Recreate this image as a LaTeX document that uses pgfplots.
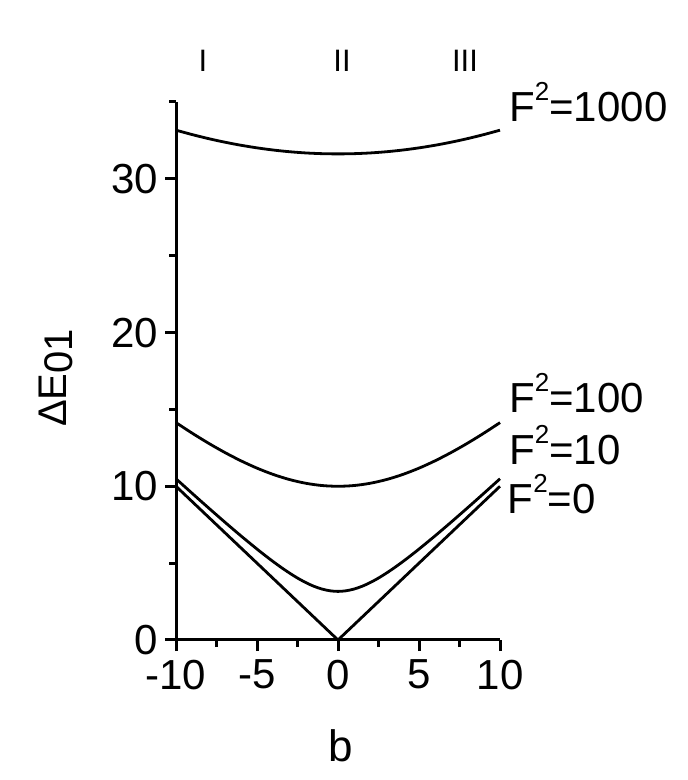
\documentclass[border=0pt]{standalone}
\usepackage{fontspec}
\setmainfont{Liberation Sans}
\usepackage{pgfplots}
\pgfplotsset{compat=1.18}
\begin{document}
\begin{tikzpicture}[x=1pt,y=1pt]
\useasboundingbox (-88pt,-70pt) rectangle (256pt,320pt);
\begin{axis}[
  at={(0pt,0pt)}, anchor=south west,
  scale only axis, width=162pt, height=269pt,
  xmin=-10, xmax=10, ymin=0, ymax=35,
  axis lines=left, axis line style={-, line width=1.5pt},
  xtick={-10,-5,0,5,10}, ytick={0,10,20,30},
  minor xtick={-7.5,-2.5,2.5,7.5}, minor ytick={5,15,25,35},
  tick align=outside, tick style={black, line width=1.5pt},
  major tick length=5.5pt, minor tick length=3.5pt,
  /pgf/number format/assume math mode=true,
  tick label style={font=\fontsize{21}{21}\selectfont},
  xticklabel style={yshift=-1pt},
  clip=false,
  xlabel={b}, ylabel={ΔE\raisebox{-3pt}{01}},
  xlabel style={font=\fontsize{22}{22}\selectfont, at={(axis description cs:0.509,-0.197)}, anchor=center},
  ylabel style={font=\fontsize{20}{20}\selectfont, at={(axis description cs:-0.37,0.487)}, anchor=center},
]
\addplot[black, line width=1.4pt] coordinates {(-10,10) (0,0) (10,10)};
\addplot[black, line width=1.4pt, smooth] coordinates {
(-10,10.488) (-9,9.539) (-8,8.602) (-7,7.681) (-6,6.782) (-5,5.916) (-4.5,5.5) (-4,5.099) (-3.5,4.717) (-3,4.359) (-2.5,4.031) (-2,3.742) (-1.5,3.5) (-1,3.317) (-0.5,3.202) (0,3.162)
(0.5,3.202) (1,3.317) (1.5,3.5) (2,3.742) (2.5,4.031) (3,4.359) (3.5,4.717) (4,5.099) (4.5,5.5) (5,5.916) (6,6.782) (7,7.681) (8,8.602) (9,9.539) (10,10.488)};
\addplot[black, line width=1.4pt, smooth] coordinates {
(-10,14.142) (-9,13.454) (-8,12.806) (-7,12.207) (-6,11.662) (-5,11.180) (-4,10.770) (-3,10.440) (-2,10.198) (-1,10.050) (0,10)
(1,10.050) (2,10.198) (3,10.440) (4,10.770) (5,11.180) (6,11.662) (7,12.207) (8,12.806) (9,13.454) (10,14.142)};
\addplot[black, line width=1.4pt, smooth] coordinates {
(-10,33.166) (-9,32.879) (-8,32.619) (-7,32.388) (-6,32.187) (-5,32.016) (-4,31.875) (-3,31.765) (-2,31.686) (-1,31.639) (0,31.623)
(1,31.639) (2,31.686) (3,31.765) (4,31.875) (5,32.016) (6,32.187) (7,32.388) (8,32.619) (9,32.879) (10,33.166)};
\def\Flab#1{F\raisebox{10.5pt}{\fontsize{13}{13}\selectfont 2}=#1}
\node[anchor=base west, inner sep=0pt, font=\fontsize{21}{21}\selectfont] at (axis cs:10.55,33.7) {\Flab{1000}};
\node[anchor=base west, inner sep=0pt, font=\fontsize{21}{21}\selectfont] at (axis cs:10.55,14.77) {\Flab{100}};
\node[anchor=base west, inner sep=0pt, font=\fontsize{21}{21}\selectfont] at (axis cs:10.55,11.39) {\Flab{10}};
\node[anchor=base west, inner sep=0pt, font=\fontsize{21}{21}\selectfont] at (axis cs:10.45,8.26) {\Flab{0}};
\node[anchor=base, inner sep=0pt, font=\fontsize{15.5}{15.5}\selectfont] at (axis cs:-8.33,37.0) {I};
\node[anchor=base, inner sep=0pt, font=\fontsize{15.5}{15.5}\selectfont] at (axis cs:0.25,37.0) {II};
\node[anchor=base, inner sep=0pt, font=\fontsize{15.5}{15.5}\selectfont] at (axis cs:7.84,37.0) {III};
\end{axis}
\end{tikzpicture}
\end{document}
